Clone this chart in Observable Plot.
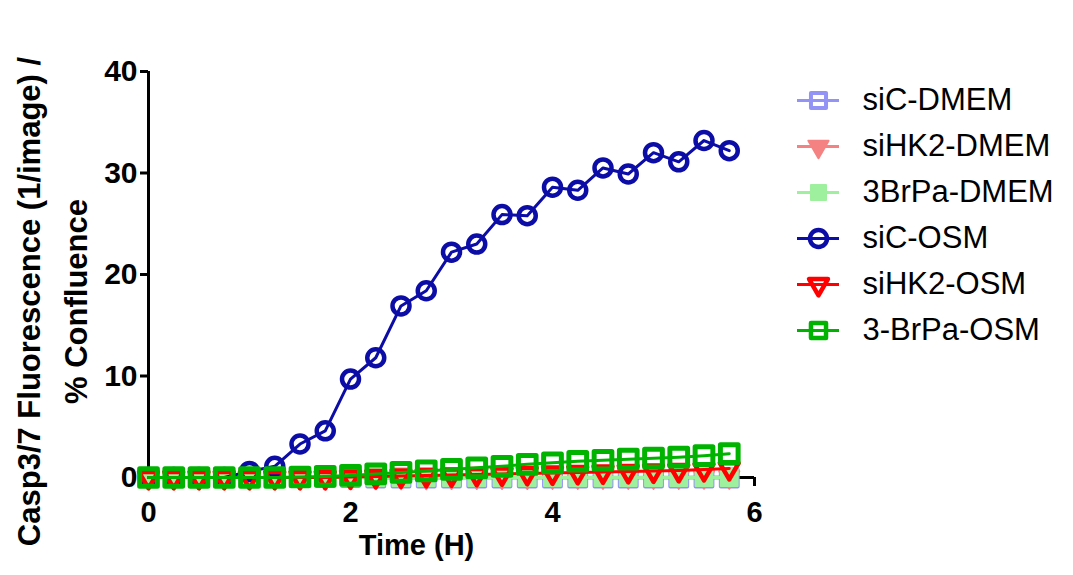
<!DOCTYPE html>
<html><head><meta charset="utf-8">
<script src="https://cdn.jsdelivr.net/npm/d3@7"></script>
<script src="https://cdn.jsdelivr.net/npm/@observablehq/plot@0.6"></script>
<style>
body{margin:0;background:#fff;font-family:"Liberation Sans",Arial,sans-serif;}
#wrap{position:relative;width:1073px;height:575px;overflow:hidden;}
#legend{position:absolute;left:780px;top:70px;}
svg{font-family:"Liberation Sans",Arial,sans-serif;}
</style></head><body><div id="wrap"><div id="chart"></div><div id="legend"></div></div>
<script>
// ---- data ----
const times = [0, 0.25, 0.5, 0.75, 1, 1.25, 1.5, 1.75, 2, 2.25, 2.5, 2.75, 3, 3.25, 3.5, 3.75, 4, 4.25, 4.5, 4.75, 5, 5.25, 5.5, 5.75];
const seriesNames = ["siC-DMEM", "siHK2-DMEM", "3BrPa-DMEM", "siC-OSM", "siHK2-OSM", "3-BrPa-OSM"];
const siC_DMEM   = [0, 0, 0, 0, 0, 0, 0, 0, 0, -0.05, -0.05, -0.05, -0.05, -0.05, -0.05, -0.05, -0.05, -0.05, -0.05, -0.05, -0.05, -0.05, -0.05, -0.05];
const siHK2_DMEM = [0, 0, 0, 0, 0, 0, 0, 0, 0, 0, 0, 0, 0.02, 0.02, 0.02, 0.02, 0.03, 0.03, 0.03, 0.03, 0.03, 0.03, 0.04, 0.04];
const BrPa_DMEM  = [0, 0, 0, 0, 0, 0, 0, 0, 0, 0, 0, 0, 0, 0, 0, 0, 0, 0, 0, 0, 0, 0, 0, 0];
const siC_OSM    = [0, 0, 0, 0, 0.6, 1.1, 3.3, 4.6, 9.7, 11.8, 16.9, 18.4, 22.2, 23.0, 25.9, 25.8, 28.6, 28.3, 30.5, 29.9, 32.0, 31.1, 33.2, 32.2];
const siHK2_OSM  = [0, 0, 0, 0, 0, 0, 0, 0, 0.05, 0.1, 0.15, 0.2, 0.25, 0.3, 0.35, 0.4, 0.45, 0.5, 0.55, 0.6, 0.65, 0.7, 0.78, 0.88];
const BrPa_OSM   = [0, 0, 0, 0, 0, 0, 0.05, 0.1, 0.2, 0.35, 0.5, 0.65, 0.8, 0.95, 1.1, 1.3, 1.45, 1.6, 1.7, 1.8, 1.9, 2.0, 2.15, 2.35];
const seriesValues = [siC_DMEM, siHK2_DMEM, BrPa_DMEM, siC_OSM, siHK2_OSM, BrPa_OSM];
const yTicks = [0, 10, 20, 30, 40];
const xTicks = [0, 2, 4, 6];

// ---- styles ----
const styles = [
  {color: "#9393f5", symbol: "square",   filled: false, rotate: 0,   r: 9.5, sw: 4},
  {color: "#f58282", symbol: "triangle", filled: true,  rotate: 180, r: 7.5, sw: 2},
  {color: "#9ef09e", symbol: "square",   filled: true,  rotate: 0,   r: 9.5, sw: 2},
  {color: "#0c0ca6", symbol: "circle",   filled: false, rotate: 0,   r: 8.5, sw: 4.5},
  {color: "#ff0000", symbol: "triangle", filled: false, rotate: 180, r: 7,   sw: 4.5},
  {color: "#00b300", symbol: "square",   filled: false, rotate: 0,   r: 10,  sw: 5}
];

const rows = [];
seriesNames.forEach((name, si) => {
  times.forEach((t, i) => rows.push({series: name, t, v: seriesValues[si][i]}));
});

const FONT = "Liberation Sans, Arial, sans-serif";
const marks = [
  Plot.ruleX([0], {stroke: "black", strokeWidth: 3}),
  Plot.ruleY([0], {stroke: "black", strokeWidth: 3}),
  Plot.axisY({ticks: yTicks, tickSize: 8, tickPadding: 3, fontSize: 30, fontWeight: "bold", strokeWidth: 3, label: null, tickFormat: d => String(d)}),
  Plot.axisX({ticks: xTicks, tickSize: 9, tickPadding: 15, fontSize: 29, fontWeight: "bold", strokeWidth: 3, label: null, tickFormat: d => String(d)}),
  Plot.text(["Time (H)"], {frameAnchor: "bottom", text: d => d, lineAnchor: "top", dy: 57, dx: -35, fontSize: 29, fontWeight: "bold", fill: "black"}),
  Plot.text(["Casp3/7 Fluorescence (1/image) /\n% Confluence"], {frameAnchor: "left", text: d => d, rotate: -90, textAnchor: "middle", lineAnchor: "middle", lineHeight: 1.5, dx: -100, dy: 27, fontSize: 31, fontWeight: "bold", fill: "black"})
];
seriesNames.forEach((name, si) => {
  const s = styles[si];
  const data = rows.filter(d => d.series === name);
  marks.push(Plot.line(data, {x: "t", y: "v", stroke: s.color, strokeWidth: 3}));
  marks.push(Plot.dot(data, {x: "t", y: "v", symbol: s.symbol, r: s.r, rotate: s.rotate,
    stroke: s.color, strokeWidth: s.sw, fill: s.filled ? s.color : "none", strokeLinejoin: "round"}));
});

const chart = Plot.plot({
  width: 1073, height: 575,
  marginLeft: 148, marginRight: 319, marginTop: 71, marginBottom: 98,
  x: {domain: [0, 6]},
  y: {domain: [0, 40]},
  style: {fontFamily: FONT, color: "black", background: "white", overflow: "visible"},
  marks
});
document.getElementById("chart").appendChild(chart);

// ---- legend ----
const lmarks = [];
seriesNames.forEach((name, si) => {
  const s = styles[si];
  lmarks.push(Plot.ruleY([name], {y: d => d, stroke: s.color, strokeWidth: 3}));
  lmarks.push(Plot.dot([name], {y: d => d, frameAnchor: "middle", symbol: s.symbol, r: Math.min(s.r, 8.5), rotate: s.rotate,
    stroke: s.color, strokeWidth: Math.min(s.sw, 4.5), fill: s.filled ? s.color : "none", strokeLinejoin: "round"}));
});
lmarks.push(Plot.text(seriesNames, {y: d => d, text: d => d, frameAnchor: "right", textAnchor: "start", dx: 23, fontSize: 31, fill: "black"}));
const legend = Plot.plot({
  width: 293, height: 290,
  marginLeft: 17, marginRight: 234, marginTop: 28, marginBottom: 28,
  y: {type: "point", domain: seriesNames, padding: 0, axis: null},
  style: {fontFamily: FONT, color: "black", background: "transparent", overflow: "visible"},
  marks: lmarks
});
document.getElementById("legend").appendChild(legend);
</script>
</body></html>
